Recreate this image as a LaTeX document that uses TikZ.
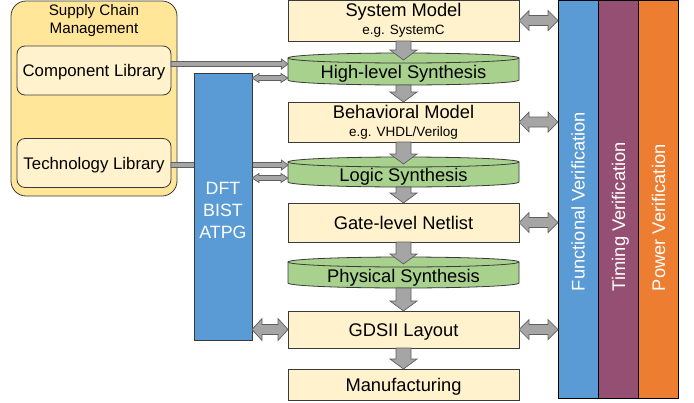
\documentclass[tikz,border=0pt]{standalone}
\usepackage{fontspec}
\setmainfont{Liberation Sans}
\usetikzlibrary{calc,backgrounds}
\definecolor{scmc}{HTML}{FFE699}
\definecolor{boxc}{HTML}{FFF2CC}
\definecolor{cylc}{HTML}{A9D18E}
\definecolor{bluec}{HTML}{5B9BD5}
\definecolor{timc}{HTML}{954F72}
\definecolor{powc}{HTML}{ED7D31}
\definecolor{arrc}{HTML}{A5A5A5}
\definecolor{arrd}{HTML}{5F5F5F}
\definecolor{bordc}{HTML}{3A3A3A}
\newcommand\fsmain{\fontsize{18.3}{17.8}\selectfont}
\newcommand\fssub{\fontsize{13.5}{17.8}\selectfont}
\newcommand\fslib{\fontsize{16.8}{20}\selectfont}
\newcommand\fsscm{\fontsize{15.2}{18}\selectfont}
\newcommand\fsdft{\fontsize{17.8}{22}\selectfont}
% double-headed horizontal block arrow
\newcommand\dblH[5]{\draw[blk] let \p1=(#1), \p2=(#2) in
 (\x1,\y1) -- (\x1+#5,\y1+#4) -- (\x1+#5,\y1+#3) -- (\x2-#5,\y1+#3) -- (\x2-#5,\y1+#4) -- (\x2,\y1)
 -- (\x2-#5,\y1-#4) -- (\x2-#5,\y1-#3) -- (\x1+#5,\y1-#3) -- (\x1+#5,\y1-#4) -- cycle;}
% single-headed horizontal block arrow
\newcommand\sglH[5]{\draw[blk] let \p1=(#1), \p2=(#2) in
 (\x1,\y1+#3) -- (\x2-#5,\y1+#3) -- (\x2-#5,\y1+#4) -- (\x2,\y1) -- (\x2-#5,\y1-#4) -- (\x2-#5,\y1-#3) -- (\x1,\y1-#3) -- cycle;}
% single-headed downward block arrow
\newcommand\sglV[5]{\draw[blk] let \p1=(#1), \p2=(#2) in
 (\x1-#3,\y1) -- (\x1-#3,\y2+#5) -- (\x1-#4,\y2+#5) -- (\x1,\y2) -- (\x1+#4,\y2+#5) -- (\x1+#3,\y2+#5) -- (\x1+#3,\y1) -- cycle;}
% cylinder drawn around a node
\newcommand\cylpath[2]{\path[#2] let \p1=(#1.north west), \p2=(#1.south east), \n1={(\x2-\x1)/2} in
 (\x1,\y1-5pt) -- (\x1,\y2+5pt) arc[start angle=180,end angle=360,x radius=\n1,y radius=5pt]
 -- (\x2,\y1-5pt) arc[start angle=0,end angle=180,x radius=\n1,y radius=5pt] -- cycle;}
\newcommand\cyltop[1]{\draw[cylst] let \p1=(#1.north west), \p2=(#1.south east), \n1={(\x2-\x1)/2} in
 (\x1,\y1-5pt) arc[start angle=180,end angle=360,x radius=\n1,y radius=5pt];}
\tikzset{
 every node/.style={inner sep=0pt, outer sep=0pt},
 mbox/.style={draw=bordc, line width=0.8pt, fill=boxc, minimum width=231pt, align=center, font=\fsmain},
 onel/.style={text height=13.2pt, text depth=0pt},
 cylnode/.style={minimum width=231pt, font=\fsmain, text height=19pt, text depth=0pt},
 cylst/.style={draw=bordc, line width=0.8pt, fill=cylc},
 cylshadow/.style={fill=black, opacity=0.13, xshift=1.2pt, yshift=-2.5pt},
 lib/.style={draw=bordc, line width=0.8pt, fill=boxc, rounded corners=8pt, minimum width=154pt, minimum height=49pt, font=\fslib, text height=12pt, text depth=0pt},
 col/.style={draw=black, line width=0.8pt, minimum width=40pt, minimum height=398pt},
 vtext/.style={rotate=90, anchor=west, text=white, font=\fsmain, text height=13.2pt, text depth=0pt},
 blk/.style={fill=arrc, draw=arrd, line width=0.7pt, line join=miter},
}
\begin{document}
\begin{tikzpicture}[x=1pt,y=-1pt]
\useasboundingbox (0,0) rectangle (694,402);
\coordinate (y64) at (0,64);
\coordinate (y78) at (0,78);
\coordinate (y165) at (0,165);
\coordinate (y178) at (0,178);

% supply chain management
\node[draw=bordc, line width=0.8pt, fill=scmc, rounded corners=15pt, minimum width=166pt, minimum height=195pt] (scm) at (94,98.5) {};
\node[font=\fsscm, align=center] (scmt) at (94,20.5) {Supply Chain\\Management};
\node[lib] (cl) at (94,70.5) {Component Library};
\node[lib] (tl) at (94,163) {Technology Library};

% middle column
\node[mbox, minimum height=41pt] (sm) at (403.5,20.5) {System Model\\{\fssub e.g. SystemC}};
\node[cylnode, minimum height=32pt] (hls) at (403.5,69) {High-level Synthesis};
\node[mbox, minimum height=40pt] (bm) at (403.5,122) {Behavioral Model\\{\fssub e.g. VHDL/Verilog}};
\node[cylnode, minimum height=30pt] (ls) at (403.5,172) {Logic Synthesis};
\node[mbox, onel, minimum height=39pt] (gln) at (403.5,222.5) {Gate-level Netlist};
\node[cylnode, minimum height=31pt] (ps) at (403.5,272.5) {Physical Synthesis};
\node[mbox, onel, minimum height=37pt] (gds) at (403.5,329.5) {GDSII Layout};
\node[mbox, onel, minimum height=31pt] (mf) at (403.5,384.5) {Manufacturing};

\begin{scope}[on background layer]
 \foreach \c in {hls,ls,ps}{\cylpath{\c}{cylshadow}\cylpath{\c}{cylst}\cyltop{\c}}
\end{scope}

% technology library arrow (behind DFT)
\sglH{tl.east |- y165}{ls.west |- y165}{2.5pt}{5pt}{6.5pt}

% DFT block
\node[draw=bordc, line width=0.8pt, fill=bluec, minimum width=58pt, minimum height=267pt] (dft) at (223,206.5) {};
\node[font=\fsdft, text=white, align=center] (dftt) at (223,210) {DFT\\BIST\\ATPG};

% verification columns
\node[col, fill=bluec] (fv) at (578,199) {};
\node[col, fill=timc] (tv) at (618,199) {};
\node[col, fill=powc] (pv) at (658,199) {};
\node[vtext] (fvt) at (578,291) {Functional Verification};
\node[vtext] (tvt) at (618.5,291) {Timing Verification};
\node[vtext] (pvt) at (658.5,291) {Power Verification};

% left arrows
\sglH{cl.east |- y64}{hls.west |- y64}{2.5pt}{5pt}{6.5pt}
\dblH{dft.east |- y78}{hls.west |- y78}{2.5pt}{4.5pt}{7pt}
\dblH{dft.east |- y178}{ls.west |- y178}{2.5pt}{4.5pt}{7pt}
\dblH{gds.west -| dft.east}{gds.west}{5pt}{11pt}{10pt}

% right arrows
\dblH{sm.east}{sm.east -| fv.west}{5pt}{10pt}{10pt}
\dblH{bm.east}{bm.east -| fv.west}{5pt}{10pt}{10pt}
\dblH{gln.east}{gln.east -| fv.west}{5pt}{10pt}{10pt}
\dblH{gds.east}{gds.east -| fv.west}{5pt}{10pt}{10pt}

% down arrows
\sglV{sm.south}{[yshift=-7pt]hls.north}{7.5pt}{13.5pt}{10pt}
\sglV{hls.south}{bm.north}{7.5pt}{13.5pt}{10pt}
\sglV{bm.south}{[yshift=-7pt]ls.north}{7.5pt}{13.5pt}{10pt}
\sglV{ls.south}{gln.north}{7.5pt}{13.5pt}{10pt}
\sglV{gln.south}{[yshift=-7pt]ps.north}{7.5pt}{13.5pt}{10pt}
\sglV{ps.south}{gds.north}{7.5pt}{13.5pt}{10pt}
\sglV{gds.south}{mf.north}{7.5pt}{13.5pt}{10pt}
\end{tikzpicture}
\end{document}
